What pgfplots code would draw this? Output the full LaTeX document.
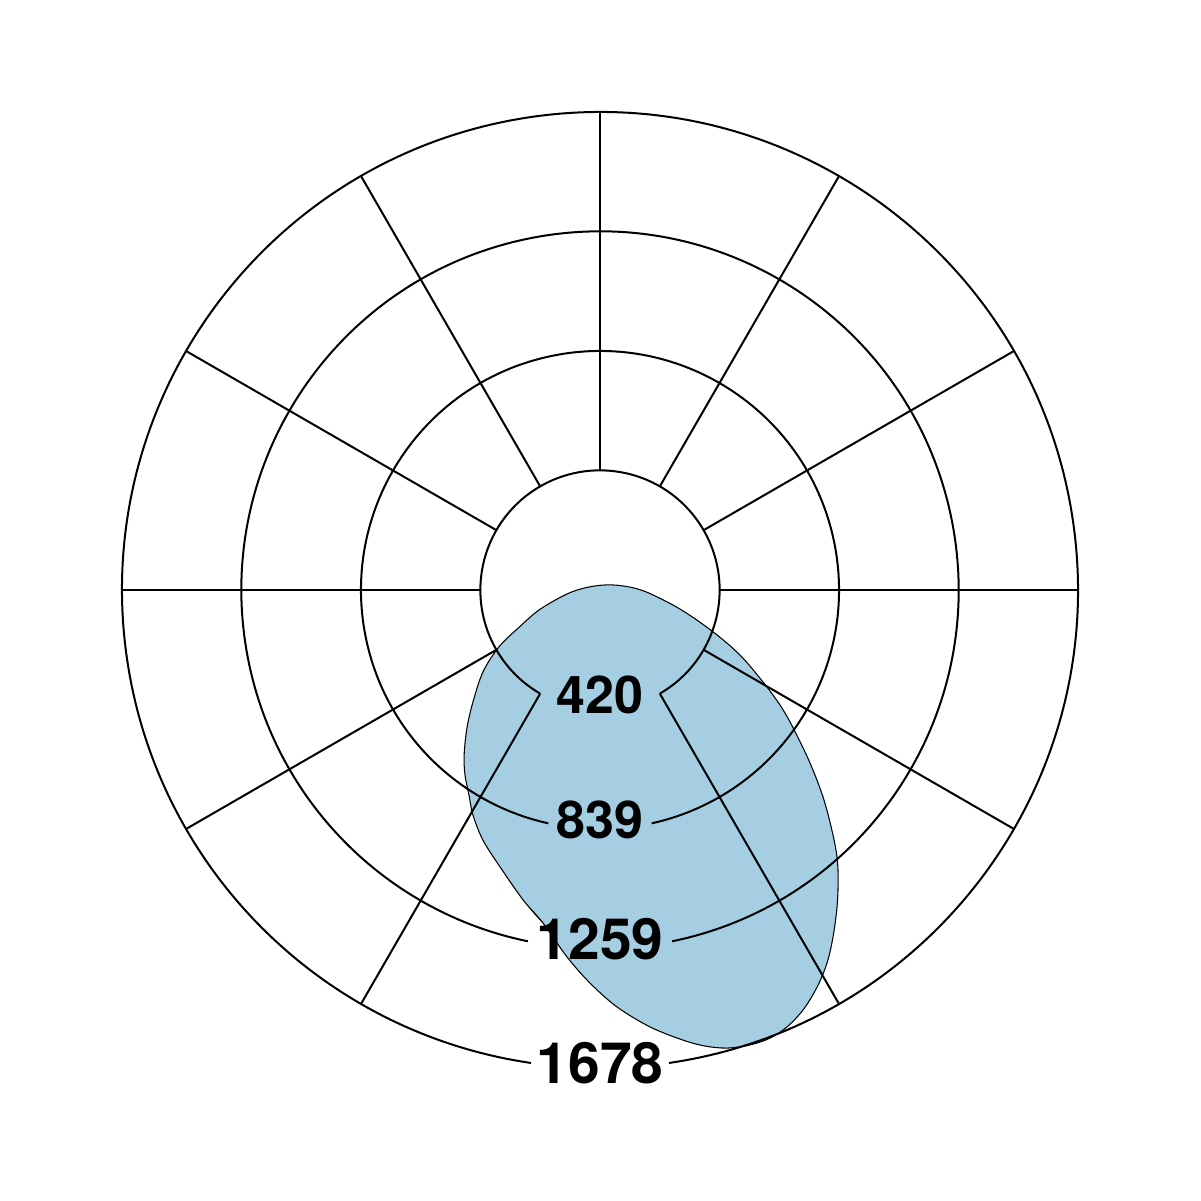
\documentclass[border=0pt]{standalone}
\usepackage{pgfplots}
\pgfplotsset{compat=1.18}
\usepackage{fontspec}
\setmainfont{TeX Gyre Heros}
\definecolor{lobe}{HTML}{A6CEE3}
\begin{document}
\begin{tikzpicture}
\begin{axis}[width=12.01cm,height=12.01cm,scale only axis,hide axis,
  xmin=-2106.3,xmax=2109.8,ymin=-2144.9,ymax=2071.2,clip=false]
\addplot[fill=lobe, draw=black, line width=0.3pt, smooth, tension=0.55] coordinates {
 (-200,-1169) (-270,-1088) (-351,-972) (-411,-878) (-446,-790) (-460,-720)
 (-474,-649) (-477,-579) (-467,-484) (-446,-393) (-411,-288) (-355,-200)
 (-281,-128) (-211,-68) (-116,-14) (-46,9) (25,18) (95,12) (165,-8)
 (281,-67) (397,-147) (491,-228) (569,-319) (632,-404) (678,-484)
 (737,-607) (783,-727) (814,-843) (832,-937) (836,-1018) (832,-1113)
 (818,-1218) (797,-1309) (762,-1394) (713,-1474) (656,-1534) (597,-1573)
 (527,-1597) (446,-1608) (369,-1601) (291,-1580) (176,-1534) (60,-1464)
 (-35,-1380) (-116,-1288) (-200,-1169) (-270,-1088) (-351,-972)
};
\coordinate (O) at (axis cs:0,0);
\coordinate (SW) at (rel axis cs:0,0);
\coordinate (NE) at (rel axis cs:1,1);
\end{axis}
\path (SW) rectangle (NE);
\begin{scope}[shift={(O)}, line width=0.57pt]
\draw (-60:1.1964cm) arc[start angle=-60,end angle=240,radius=1.1964cm];
\draw (-77.5:2.39cm) arc[start angle=-77.5,end angle=257.5,radius=2.39cm];
\draw (-78.4:3.5864cm) arc[start angle=-78.4,end angle=258.4,radius=3.5864cm];
\draw (-81.7:4.78cm) arc[start angle=-81.7,end angle=261.7,radius=4.78cm];
\foreach \a in {0,30,60,90,120,150,180,210,240,300,330}
  \draw (\a:1.1964cm) -- (\a:4.78cm);
\node[font=\bfseries\fontsize{14.8}{16}\selectfont, inner sep=0pt] at (0,-1.05cm) {420};
\node[font=\bfseries\fontsize{14.8}{16}\selectfont, inner sep=0pt] at (0,-2.30cm) {839};
\node[font=\bfseries\fontsize{16.2}{18}\selectfont, inner sep=0pt] at (0,-3.49cm) {1259};
\node[font=\bfseries\fontsize{16.2}{18}\selectfont, inner sep=0pt] at (0,-4.73cm) {1678};
\end{scope}
\end{tikzpicture}
\end{document}
